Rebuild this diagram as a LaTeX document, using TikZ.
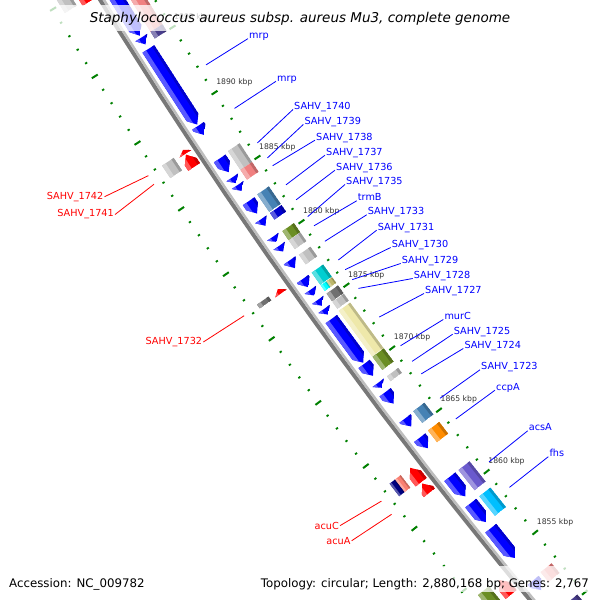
\documentclass[tikz,border=0pt]{standalone}
\usepackage{fontspec}
\setmainfont{DejaVu Sans}[ItalicFont={DejaVu Sans Oblique}]
\usetikzlibrary{calc}

\definecolor{revblue}{RGB}{0,0,255}
\definecolor{fwdred}{RGB}{255,0,0}
\definecolor{tickgreen}{RGB}{0,128,0}
\definecolor{bbdark}{RGB}{120,120,120}
\definecolor{bblight}{RGB}{190,190,190}
\definecolor{cogsilver}{RGB}{192,192,192}
\definecolor{coggray}{RGB}{112,112,112}
\definecolor{coglightcoral}{RGB}{240,128,128}
\definecolor{cogsteel}{RGB}{70,130,180}
\definecolor{cogolive}{RGB}{107,142,35}
\definecolor{cogturq}{RGB}{0,206,209}
\definecolor{cogcyan}{RGB}{0,255,255}
\definecolor{cogkhaki}{RGB}{189,183,107}
\definecolor{cogyellow}{RGB}{238,232,170}
\definecolor{cogorange}{RGB}{255,140,0}
\definecolor{cogslate}{RGB}{106,90,205}
\definecolor{cogsky}{RGB}{0,191,255}
\definecolor{cognavy}{RGB}{0,0,128}
\definecolor{cogsalmon}{RGB}{250,128,114}
\definecolor{cogdslate}{RGB}{72,61,139}
\definecolor{cogmblue}{RGB}{0,0,205}

% track radii (pt, from the centre of the map)
\newcommand{\blueIn}{5259}
\newcommand{\blueOut}{5273}
\newcommand{\cogIn}{5241}
\newcommand{\cogOut}{5255}
\newcommand{\redIn}{5285}
\newcommand{\redOut}{5299}
\newcommand{\ocogIn}{5304}
\newcommand{\ocogOut}{5318}
\newcommand{\headlen}{0.55}

% light and dark bands of a feature
\newcommand{\bands}[5]{%
  \fill[#5!65!white] ({ang(#1)-0.1}:{#4-0.3*(#4-#3)}) -- ({ang(#2)+0.1}:{#4-0.3*(#4-#3)})
    -- ({ang(#2)+0.1}:{#4+1}) -- ({ang(#1)-0.1}:{#4+1}) -- cycle;
  \fill[#5!80!black] ({ang(#1)-0.1}:{#3-1}) -- ({ang(#2)+0.1}:{#3-1})
    -- ({ang(#2)+0.1}:{#3+0.2*(#4-#3)}) -- ({ang(#1)-0.1}:{#3+0.2*(#4-#3)}) -- cycle;}

% plain block: from kbp #1 to kbp #2, radii #3..#4
\newcommand{\cogbox}[5]{%
  \begin{scope}
    \clip ({ang(#1)}:#3) -- ({ang(#2)}:#3) -- ({ang(#2)}:#4) -- ({ang(#1)}:#4) -- cycle;
    \fill[#5] ({ang(#1)}:#3) -- ({ang(#2)}:#3) -- ({ang(#2)}:#4) -- ({ang(#1)}:#4) -- cycle;
    \bands{#1}{#2}{#3}{#4}{#5}
  \end{scope}}

% arrow pointing to the lower position #2
\newcommand{\revgene}[5]{%
  \begin{scope}
    \pgfmathsetmacro{\kb}{min(#1,#2+\headlen)}
    \clip ({ang(#1)}:#4) -- ({ang(\kb)}:#4) -- ({ang(#2)}:{(#3+#4)/2})
      -- ({ang(\kb)}:#3) -- ({ang(#1)}:#3) -- cycle;
    \fill[#5] ({ang(#1)}:#4) -- ({ang(\kb)}:#4) -- ({ang(#2)}:{(#3+#4)/2})
      -- ({ang(\kb)}:#3) -- ({ang(#1)}:#3) -- cycle;
    \bands{#1}{#2}{#3}{#4}{#5}
  \end{scope}}

% arrow pointing to the higher position #1
\newcommand{\fwdgene}[5]{%
  \begin{scope}
    \pgfmathsetmacro{\kb}{max(#2,#1-\headlen)}
    \clip ({ang(#1)}:{(#3+#4)/2}) -- ({ang(\kb)}:#4) -- ({ang(#2)}:#4)
      -- ({ang(#2)}:#3) -- ({ang(\kb)}:#3) -- cycle;
    \fill[#5] ({ang(#1)}:{(#3+#4)/2}) -- ({ang(\kb)}:#4) -- ({ang(#2)}:#4)
      -- ({ang(#2)}:#3) -- ({ang(\kb)}:#3) -- cycle;
    \bands{#1}{#2}{#3}{#4}{#5}
  \end{scope}}

\begin{document}
\begin{tikzpicture}[x=1pt, y=1pt,
    declare function={ang(\p)=213.12+(1890-\p)*0.1703;},
    minortick/.style={draw=tickgreen, line width=1.8pt},
    majortick/.style={draw=tickgreen, line width=2pt},
    kbplabel/.style={font=\fontsize{7.7}{9}\selectfont, text=black!80, anchor=west,
      inner sep=0pt, xshift=1.5pt, yshift=10.3pt},
    bluelabel/.style={font=\fontsize{9.7}{11}\selectfont, text=blue, anchor=base west, inner sep=1pt},
    redlabel/.style={font=\fontsize{9.7}{11}\selectfont, text=red, anchor=base east, inner sep=1pt},
    blueleader/.style={draw=blue, line width=0.8pt},
    redleader/.style={draw=red, line width=0.8pt},
    fade/.style={fill=white, opacity=0.75}]

\useasboundingbox (0,0) rectangle (600,600);
\clip (0,0) rectangle (600,600);

\begin{scope}[shift={(4598,3367)}]
  % backbone
  \draw[line width=4pt, bbdark] plot[domain=1845:1904, samples=25] ({ang(\x)}:5281);
  \draw[line width=2.5pt, bblight] plot[domain=1845:1904, samples=25] ({ang(\x)}:5277.75);

  % tick rings
  \foreach \k in {1846,...,1903}{
    \pgfmathtruncatemacro{\m}{mod(\k,5)}
    \ifnum\m=0
      \draw[majortick] ({ang(\k)}:5230.5) -- ({ang(\k)}:5237.5);
      \draw[majortick] ({ang(\k)}:5322.5) -- ({ang(\k)}:5329.5);
    \else
      \draw[minortick] ({ang(\k)}:5233) -- ({ang(\k)}:5235.4);
      \draw[minortick] ({ang(\k)}:5325) -- ({ang(\k)}:5327.4);
    \fi}
  \foreach \k in {1855,1860,...,1895}
    \node[kbplabel] (kbp\k) at ({ang(\k)}:5234) {\k\ kbp};

  % blue strand
  \foreach \a/\b in {1901.5/1895.65, 1895.5/1895.0, 1894.65/1888.9, 1888.8/1888.1,
      1886.3/1885.25, 1884.85/1884.4, 1884.25/1883.8, 1883.0/1882.05, 1881.6/1881.1,
      1880.25/1879.85, 1879.55/1879.1, 1878.4/1877.8, 1876.95/1876.3, 1876.1/1875.65,
      1875.3/1874.85, 1874.6/1874.15, 1873.8/1870.35, 1870.25/1869.3, 1868.75/1868.35,
      1868.0/1867.1, 1865.9/1865.25, 1864.35/1863.5, 1861.2/1859.6, 1859.05/1857.5,
      1857.0/1854.55, 1852.7/1851.9}
    \revgene{\a}{\b}{\blueIn}{\blueOut}{revblue};

  % COG colours, inner
  \foreach \a/\b/\c in {1901.5/1895.5/coglightcoral, 1895.5/1895.0/cogdslate,
      1886.4/1884.95/cogsilver, 1884.95/1884.2/coglightcoral, 1883.05/1881.7/cogsteel,
      1881.6/1881.1/cogmblue, 1880.2/1879.5/cogolive, 1879.48/1878.8/cogsilver,
      1878.35/1877.6/cogsilver, 1876.95/1876.0/cogturq, 1875.3/1874.7/coggray,
      1874.65/1874.1/cogsilver, 1873.95/1870.35/cogyellow, 1870.3/1869.25/cogolive,
      1868.75/1868.35/cogsilver, 1865.95/1865.0/cogsteel, 1864.4/1863.45/cogorange,
      1861.2/1859.55/cogslate, 1859.05/1857.45/cogsky, 1852.8/1852.0/coglightcoral,
      1850.2/1849.0/cogdslate}
    \cogbox{\a}{\b}{\cogIn}{\cogOut}{\c};
  \cogbox{1875.95}{1875.5}{5248}{\cogOut}{cogcyan}
  \cogbox{1875.95}{1875.5}{\cogIn}{5248}{cogkhaki}

  % red strand
  \foreach \a/\b in {1902/1899.2, 1888.05/1887.75, 1887.7/1886.75, 1877.35/1877.0,
      1863.2/1862.05, 1861.95/1861.2, 1854.1/1852.9}
    \fwdgene{\a}{\b}{\redIn}{\redOut}{fwdred};

  % COG colours, outer
  \foreach \a/\b/\c in {1902/1899.4/cogsilver, 1887.95/1887.0/cogsilver,
      1877.3/1877.0/coggray, 1854.2/1853.0/cogolive}
    \cogbox{\a}{\b}{\ocogIn}{\ocogOut}{\c};
  \cogbox{1863.2}{1862.2}{5311}{\ocogOut}{cognavy}
  \cogbox{1863.2}{1862.2}{\ocogIn}{5311}{cogsalmon}
\end{scope}

% gene labels, inner side
\foreach \txt/\x/\y/\k [count=\i] in {mrp/248/38.6/1891.8, mrp/276/81.3/1888.45,
    SAHV\_1740/293/109.5/1885.78, SAHV\_1739/303.3/124.5/1884.62,
    SAHV\_1738/315/140.2/1884.02, SAHV\_1737/325/155.2/1882.52,
    SAHV\_1736/335/170.2/1881.35, SAHV\_1735/345/184.5/1880.04,
    trmB/356.7/200.8/1879.32, SAHV\_1733/366.7/214.8/1878.1,
    SAHV\_1731/376.7/230.2/1876.62, SAHV\_1730/390.7/247.5/1875.86,
    SAHV\_1729/400.7/263.5/1875.07, SAHV\_1728/412.7/278.5/1874.38,
    SAHV\_1727/424/293.5/1872.1, murC/443.3/319.5/1869.8,
    SAHV\_1725/452.7/334.2/1868.55, SAHV\_1724/463.3/348.5/1867.55,
    SAHV\_1723/480/369.8/1865.57, ccpA/495/390.2/1863.9,
    acsA/527.7/430.8/1860.4, fhs/548.3/456.7/1858.3}{
  \begin{scope}[shift={(4598,3367)}]
    \coordinate (bend\i) at ({ang(\k)}:5226);
  \end{scope}
  \node[bluelabel] (blab\i) at (\x,{600-\y}) {\txt};
  \draw[blueleader] (blab\i.base west) -- (bend\i);
}

% gene labels, outer side
\foreach \txt/\x/\y/\k [count=\i] in {SAHV\_1742/104.5/199.2/1887.9,
    SAHV\_1741/115/217/1887.25, SAHV\_1732/203.3/344.5/1877.2,
    acuC/340/529.2/1862.65, acuA/351.7/544.2/1861.6}{
  \begin{scope}[shift={(4598,3367)}]
    \coordinate (rend\i) at ({ang(\k)}:5335);
  \end{scope}
  \node[redlabel] (rlab\i) at (\x,{600-\y}) {\txt};
  \draw[redleader] (rlab\i.east) -- (rend\i);
}

% title and footer
\fill[fade] (0,569) rectangle (600,595);
\fill[fade] (0,8) rectangle (600,34);
\node[font=\fontsize{13.5}{16}\selectfont\itshape, anchor=base, inner sep=0pt] (title)
  at (300,577.5) {Staphylococcus aureus subsp. aureus Mu3, complete genome};
\node[font=\fontsize{11.8}{14}\selectfont, anchor=base west, inner sep=0pt] (acc)
  at (9,12.7) {Accession: NC\_009782};
\node[font=\fontsize{11.8}{14}\selectfont, anchor=base east, inner sep=0pt] (topo)
  at (589,12.7) {Topology: circular; Length: 2,880,168 bp; Genes: 2,767};
\end{tikzpicture}
\end{document}
